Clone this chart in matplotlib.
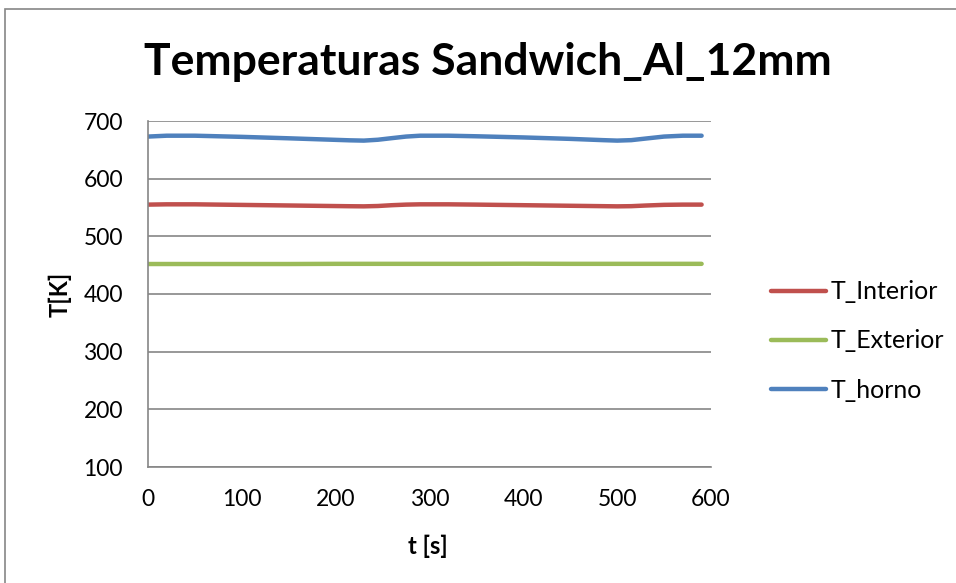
import matplotlib
matplotlib.use("Agg")
import matplotlib.pyplot as plt
from matplotlib.patches import Rectangle

plt.rcParams['font.family'] = ['Lato', 'DejaVu Sans']

t = [0, 20, 50, 100, 150, 200, 215, 230, 245, 260, 275, 290, 320, 350, 400, 450, 485, 500, 515, 530, 550, 570, 590]
T_interior = [555, 555.5, 555.5, 554.5, 553.5, 552.5, 552.2, 552, 552.6, 554, 555, 555.5, 555.5, 555, 554, 553, 552.3, 552, 552.3, 553.4, 554.6, 555, 555]
T_exterior = [452, 452, 452, 452, 452, 452.3, 452.3, 452.3, 452.3, 452.3, 452.3, 452.3, 452.3, 452.3, 452.5, 452.3, 452.3, 452.3, 452.3, 452.3, 452.3, 452.3, 452.3]
T_horno = [673, 674.5, 674.5, 672.5, 670, 667.3, 666.5, 666, 667.5, 670.3, 673, 674.5, 674.5, 673.5, 671.5, 669, 666.8, 666, 666.8, 669.5, 673, 674.5, 674.5]

series = [("T_Interior", T_interior, "#C0504D"),
          ("T_Exterior", T_exterior, "#9BBB59"),
          ("T_horno", T_horno, "#4F81BD")]

title = "Temperaturas Sandwich_Al_12mm"
xlabel = "t [s]"
ylabel = "T[K]"
xticks = [0, 100, 200, 300, 400, 500, 600]
yticks = [100, 200, 300, 400, 500, 600, 700]

W, H = 956, 583
fig = plt.figure(figsize=(W / 100, H / 100), dpi=100)
ax = fig.add_axes([148 / W, 1 - 467 / H, (711 - 148) / W, (467 - 121) / H])

for name, vals, col in series:
    ax.plot(t, vals, color=col, lw=3.2, label=name, solid_capstyle='round', solid_joinstyle='round')

ax.set_xlim(0, 600)
ax.set_ylim(100, 700)
ax.set_xticks(xticks)
ax.set_yticks(yticks)
ax.tick_params(axis='both', length=0, labelsize=16.5)
ax.tick_params(axis='y', pad=18)
ax.tick_params(axis='x', pad=16)
ax.yaxis.grid(True, color='#868686', lw=1.2)
ax.set_axisbelow(True)
for s in ['top', 'right']:
    ax.spines[s].set_visible(False)
for s in ['left', 'bottom']:
    ax.spines[s].set_color('#868686')
    ax.spines[s].set_linewidth(1.2)

fig.text(488 / W, 1 - 62 / H, title, ha='center', va='center', fontsize=32, fontweight='bold')
fig.text(428 / W, 1 - 546 / H, xlabel, ha='center', va='center', fontsize=17, fontweight='bold')
fig.text(60 / W, 1 - 294 / H, ylabel, ha='center', va='center', fontsize=17, fontweight='bold', rotation=90)

leg = fig.legend(loc='center left', bbox_to_anchor=(771 / W, 1 - 341 / H), frameon=False,
                 fontsize=18, handlelength=2.2, handletextpad=0.18, labelspacing=1.05,
                 borderpad=0, borderaxespad=0)

fig.patches.append(Rectangle((4.5 / W, -0.1), 1.2, 1.1 - 9 / H, transform=fig.transFigure,
                             fill=False, edgecolor='#868686', lw=1.2))

fig.savefig("out.png", dpi=100)
